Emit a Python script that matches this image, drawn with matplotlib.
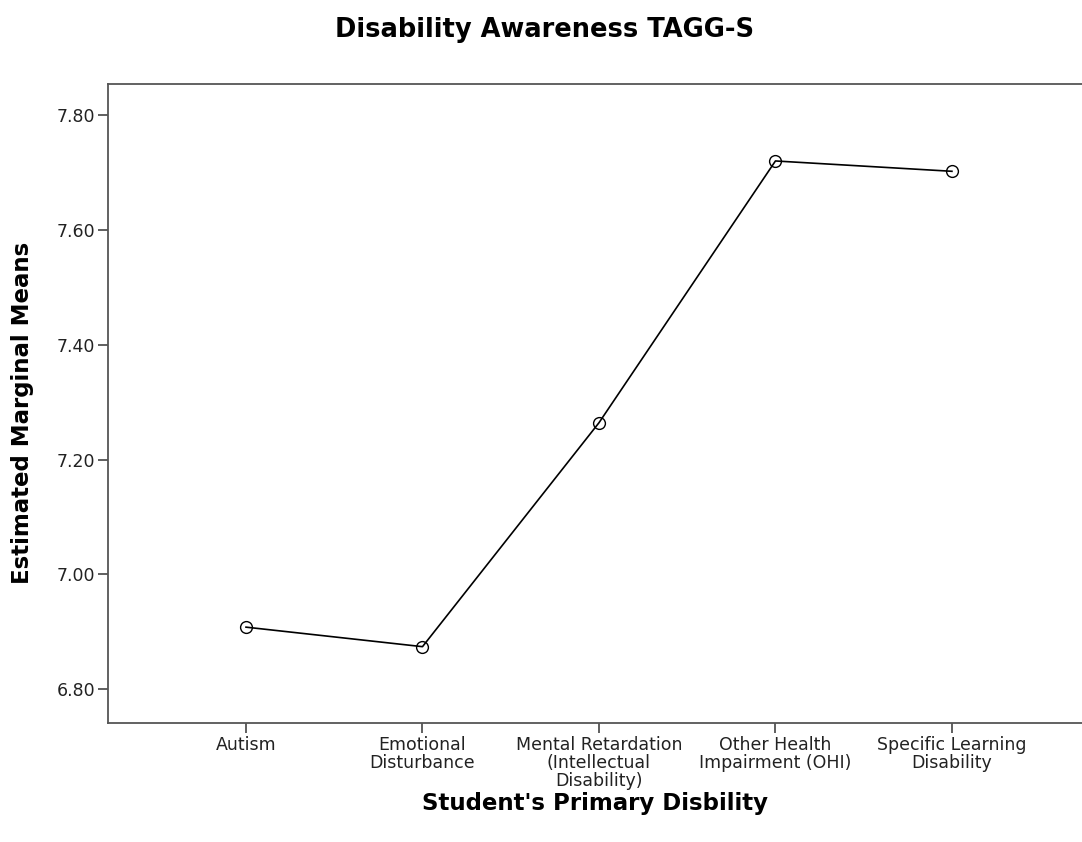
import matplotlib.pyplot as plt
import numpy as np

categories = ['Autism', 'Emotional\nDisturbance', 'Mental Retardation\n(Intellectual\nDisability)',
              'Other Health\nImpairment (OHI)', 'Specific Learning\nDisability']
means = [6.908, 6.874, 7.264, 7.720, 7.702]
y_ticks = [6.80, 7.00, 7.20, 7.40, 7.60, 7.80]

plt.rcParams['font.family'] = ['DejaVu Sans']

fig = plt.figure(figsize=(10.82, 8.42), dpi=100)
ax = fig.add_axes([0.0998, 0.1413, 0.9002, 0.7589])

x = np.arange(len(categories))
ax.plot(x, means, color='black', lw=1.2, marker='o', markersize=8.5,
        markerfacecolor='none', markeredgecolor='black', markeredgewidth=1.0)

ax.set_xlim(-0.782, 4.737)
ax.set_ylim(6.741, 7.854)
ax.set_yticks(y_ticks)
ax.set_yticklabels([f'{v:.2f}' for v in y_ticks], fontsize=12.5, color='#222222')
ax.set_xticks(x)
ax.set_xticklabels(categories, fontsize=12.5, color='#222222', linespacing=1.0)

for side in ['left', 'bottom', 'top']:
    ax.spines[side].set_color('#555555')
    ax.spines[side].set_linewidth(1.3)
ax.spines['right'].set_visible(False)
ax.tick_params(axis='both', direction='out', length=7.5, width=1.2, color='#444444', pad=1.5)

ax.set_ylabel('Estimated Marginal Means', fontsize=16.5, fontweight='bold')
ax.set_xlabel("Student's Primary Disbility", fontsize=16.5, fontweight='bold')
ax.yaxis.set_label_coords(-0.076, 0.486)
ax.xaxis.set_label_coords(0.5, -0.108)
fig.text(0.503, 0.964, 'Disability Awareness TAGG-S', ha='center', va='center',
         fontsize=18.5, fontweight='bold')

fig.savefig('out.png', dpi=100)
